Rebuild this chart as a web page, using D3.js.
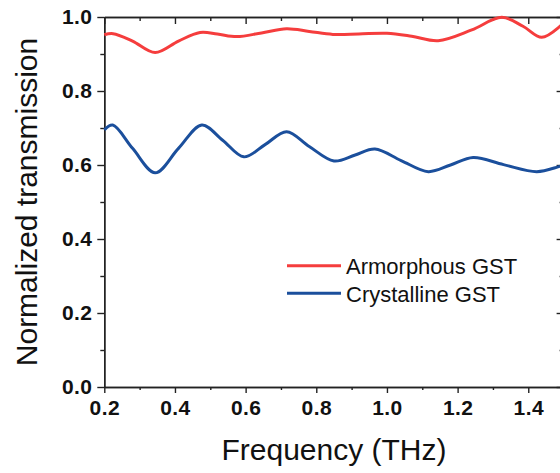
<!DOCTYPE html>
<html>
<head>
<meta charset="utf-8">
<script src="https://cdn.jsdelivr.net/npm/d3@7/dist/d3.min.js"></script>
<style>
  body { margin: 0; background: #fff; }
  svg { display: block; overflow: hidden; font-family: "Liberation Sans", Arial, sans-serif; }
  .tick-lbl text { font-weight: bold; font-size: 21px; fill: #111; letter-spacing: 0.4px; }
  .domain, .tick line { stroke: #222; stroke-width: 1.4; }
</style>
</head>
<body>
<div class="js-chart"></div>
<script>
'use strict';

// data
const seriesNames = ['Armorphous GST', 'Crystalline GST'];

const amorphFreq = [0.20, 0.225, 0.28, 0.344, 0.41, 0.471, 0.52, 0.575, 0.645, 0.716, 0.78, 0.847, 0.92, 1.0, 1.07, 1.145, 1.24, 1.325, 1.385, 1.438, 1.49, 1.5];
const amorphTrans = [0.952, 0.955, 0.935, 0.904, 0.935, 0.958, 0.954, 0.947, 0.957, 0.968, 0.961, 0.953, 0.954, 0.956, 0.948, 0.936, 0.965, 0.999, 0.975, 0.945, 0.975, 0.985];

const crystFreq = [0.20, 0.224, 0.28, 0.344, 0.41, 0.476, 0.535, 0.595, 0.655, 0.716, 0.78, 0.85, 0.91, 0.966, 1.04, 1.117, 1.18, 1.244, 1.33, 1.424, 1.484, 1.5];
const crystTrans = [0.695, 0.708, 0.645, 0.579, 0.645, 0.708, 0.667, 0.622, 0.655, 0.690, 0.650, 0.611, 0.627, 0.643, 0.612, 0.582, 0.600, 0.620, 0.601, 0.582, 0.595, 0.600];

const xMajor = [0.2, 0.4, 0.6, 0.8, 1.0, 1.2, 1.4];
const xMinor = [0.3, 0.5, 0.7, 0.9, 1.1, 1.3, 1.5];
const yMajor = [0.0, 0.2, 0.4, 0.6, 0.8, 1.0];
const yMinor = [0.1, 0.3, 0.5, 0.7, 0.9];

const colors = ['#f53d3d', '#1b4f9c'];

const margin = { top: 17, right: 0, bottom: 86, left: 104.3 };
const width = 560, height = 473;
const graphWidth = 459.3;
const graphHeight = 370;

const svg = d3.select('.js-chart')
    .append('svg')
    .attr('width', width)
    .attr('height', height);

const graph = svg.append('g')
    .attr('transform', `translate(${margin.left}, ${margin.top})`);

// scales
const x = d3.scaleLinear().domain([0.2, 1.5]).range([0, graphWidth]);
const y = d3.scaleLinear().domain([0, 1]).range([graphHeight, 0]);

// axes: major + minor, left/bottom outward, top/right inward
const fmt = d3.format('.1f');

graph.append('g')
    .attr('class', 'tick-lbl')
    .attr('transform', `translate(0, ${graphHeight})`)
    .call(d3.axisBottom(x).tickValues(xMajor).tickFormat(fmt).tickSize(6).tickSizeOuter(0).tickPadding(7));
graph.append('g')
    .attr('transform', `translate(0, ${graphHeight})`)
    .call(d3.axisBottom(x).tickValues(xMinor).tickFormat('').tickSize(3).tickSizeOuter(0));

graph.append('g')
    .attr('class', 'tick-lbl')
    .call(d3.axisLeft(y).tickValues(yMajor).tickFormat(fmt).tickSize(7).tickSizeOuter(0).tickPadding(5));
graph.append('g')
    .call(d3.axisLeft(y).tickValues(yMinor).tickFormat('').tickSize(4).tickSizeOuter(0));

graph.append('g')
    .call(d3.axisTop(x).tickValues(xMajor).tickFormat('').tickSize(-7).tickSizeOuter(0));
graph.append('g')
    .call(d3.axisTop(x).tickValues(xMinor).tickFormat('').tickSize(-4).tickSizeOuter(0));

graph.append('g')
    .attr('transform', `translate(${graphWidth}, 0)`)
    .call(d3.axisRight(y).tickValues(yMajor).tickFormat('').tickSize(-7).tickSizeOuter(0));
graph.append('g')
    .attr('transform', `translate(${graphWidth}, 0)`)
    .call(d3.axisRight(y).tickValues(yMinor).tickFormat('').tickSize(-4).tickSizeOuter(0));

// lines
const line = d3.line()
    .x(d => x(d[0]))
    .y(d => y(d[1]))
    .curve(d3.curveCatmullRom.alpha(0.5));

const series = [
    d3.zip(amorphFreq, amorphTrans),
    d3.zip(crystFreq, crystTrans)
];

graph.selectAll('path.series')
    .data(series)
    .enter()
    .append('path')
    .attr('class', 'series')
    .attr('d', line)
    .attr('fill', 'none')
    .attr('stroke', (d, i) => colors[i])
    .attr('stroke-width', 3);

// axis titles
svg.append('text')
    .attr('x', 334)
    .attr('y', 460)
    .attr('text-anchor', 'middle')
    .attr('font-size', 30)
    .attr('fill', '#111')
    .text('Frequency (THz)');

svg.append('text')
    .attr('transform', 'translate(36.5, 202) rotate(-90)')
    .attr('text-anchor', 'middle')
    .attr('font-size', 30)
    .attr('fill', '#111')
    .text('Normalized transmission');

// legend
const legend = svg.append('g');
seriesNames.forEach((name, i) => {
    const ly = 265.7 + i * 27.6;
    legend.append('line')
        .attr('x1', 287).attr('x2', 341)
        .attr('y1', ly).attr('y2', ly)
        .attr('stroke', colors[i])
        .attr('stroke-width', 3);
    legend.append('text')
        .attr('x', 346)
        .attr('y', ly + 8.3)
        .attr('font-size', 22)
        .attr('fill', '#111')
        .text(name);
});
</script>
</body>
</html>
